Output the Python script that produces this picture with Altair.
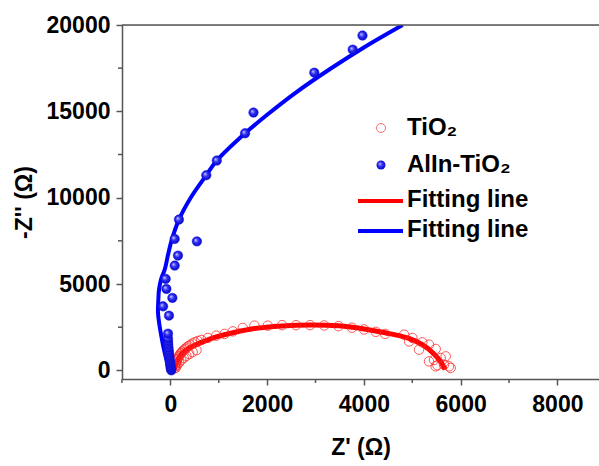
import altair as alt
import pandas as pd

# ---- data ----
tio2_zr = [85, 95, 105, 118, 130, 145, 160, 178, 198, 220, 245, 272, 302, 335, 372, 412, 458, 508, 565, 639, 775, 948, 1120, 1291, 1497,
           1738, 2012, 2309, 2598, 2887, 3181, 3476, 3753, 4006, 4247, 4439, 4831, 5002, 4934, 5208, 5346, 5140, 5484, 5691, 5588,
           5346, 5484, 5656, 5759, 5794, 5519, 5450,
           110, 140, 180, 225, 275, 330, 390, 460, 540]
tio2_zi = [120, 230, 340, 450, 560, 650, 740, 830, 920, 1000, 1080, 1160, 1240, 1320, 1400, 1480, 1560, 1630, 1700, 1760, 1877, 2010, 2110, 2260, 2456,
           2590, 2590, 2620, 2620, 2620, 2600, 2560, 2470, 2370, 2230, 2110, 2068, 1877, 1680, 1622, 1489, 1199, 1240, 811, 718,
           521, 232, 330, 232, 139, 300, 600,
           150, 300, 450, 590, 720, 840, 950, 1060, 1170]

allin_zr = [20, 15, 10, 5, 0, -5, -10, -15, -20, -25, -30, -35, -40, -45, -48, -50, -49, -29, -151, 41, -82, -97, 89, 157, 548, 89,
            177, 742, 960, 1544, 1718, 2975, 3769, 3971]
allin_zi = [0, 60, 130, 200, 300, 400, 500, 620, 750, 880, 1020, 1170, 1330, 1500, 1680, 1860, 2126, 3170, 3708, 4195, 4716, 5295, 6066, 6645, 7470, 7610,
            8730, 11300, 12150, 13730, 14930, 17240, 18573, 19390]

fit_tio2_zr = [80, 110, 150, 200, 280, 363, 466, 639, 800, 948, 1291, 1738, 2300, 2887, 3476, 4006, 4439, 4900, 5200, 5450, 5600, 5680]
fit_tio2_zi = [60, 350, 600, 850, 1080, 1250, 1400, 1620, 1800, 1940, 2180, 2420, 2570, 2630, 2580, 2400, 2180, 1880, 1500, 950, 450, 50]

fit_allin_zr = [20, -40, -82, -140, -186, -230, -256, -250, -235, -190, -118, -40, 30, 177, 420, 742, 960, 1544, 2000, 2600, 3300, 4000, 4800]
fit_allin_zi = [0, 300, 620, 1300, 1970, 2700, 3325, 4000, 4676, 5300, 5830, 6800, 7570, 8730, 10000, 11300, 12150, 13730, 14800, 16100, 17450, 18700, 20000]

x_major = [0, 2000, 4000, 6000, 8000]
x_minor = [-1000, 1000, 3000, 5000, 7000]
y_major = [0, 5000, 10000, 15000, 20000]
y_minor = [2500, 7500, 12500, 17500]

legend_labels = ["TiO₂", "AlIn-TiO₂", "Fitting line", "Fitting line"]

# ---- layout ----
W, H = 477, 354
FONT = "Liberation Sans"
AX = "#555555"

xs = alt.Scale(domain=[-1000, 8860], nice=False, zero=False)
ys = alt.Scale(domain=[-500, 20000], nice=False, zero=False)

red_pts = pd.DataFrame({"zr": tio2_zr, "zi": tio2_zi})
blue_pts = pd.DataFrame({"zr": allin_zr, "zi": allin_zi})
red_fit = pd.DataFrame({"zr": fit_tio2_zr, "zi": fit_tio2_zi, "i": range(len(fit_tio2_zr))})
blue_fit = pd.DataFrame({"zr": fit_allin_zr, "zi": fit_allin_zi, "i": range(len(fit_allin_zr))})

common = dict(grid=False, tickSize=6, tickColor=AX, domainColor=AX, domainWidth=1.5, tickWidth=1.5, format="d",
              labelFont=FONT, labelFontWeight="bold", labelFontSize=23, labelColor="black",
              titleFont=FONT, titleFontWeight="bold", titleFontSize=23, titleColor="black")
xaxis = alt.Axis(values=x_major, titlePadding=20, labelPadding=8, **common)
yaxis = alt.Axis(values=y_major, titlePadding=10, labelPadding=6, **common)

blue_grad = alt.RadialGradient(gradient="radial",
                               stops=[alt.GradientStop(color="#d0d0ff", offset=0),
                                      alt.GradientStop(color="#3030f0", offset=0.45),
                                      alt.GradientStop(color="#0000c8", offset=1)],
                               x1=0.35, y1=0.35, r1=0, x2=0.5, y2=0.5, r2=0.55)

base_axes = alt.Chart(red_fit).mark_line(color="red", strokeWidth=5, clip=True, interpolate="catmull-rom").encode(
    x=alt.X("zr:Q", scale=xs, axis=xaxis, title="Z' (Ω)"),
    y=alt.Y("zi:Q", scale=ys, axis=yaxis, title="-Z'' (Ω)"),
    order="i:Q")

red_circles = alt.Chart(red_pts).mark_point(shape="circle", filled=False, stroke="#ff2020", strokeWidth=1, size=90, opacity=0.75).encode(
    x=alt.X("zr:Q", scale=xs), y=alt.Y("zi:Q", scale=ys))

blue_line = alt.Chart(blue_fit).mark_line(color="#0000ff", strokeWidth=4, clip=True, interpolate="catmull-rom").encode(
    x=alt.X("zr:Q", scale=xs), y=alt.Y("zi:Q", scale=ys), order="i:Q")

blue_dots = alt.Chart(blue_pts).mark_point(shape="circle", filled=True, fill=blue_grad, stroke="#1010e0", strokeWidth=0.5, size=90, opacity=1).encode(
    x=alt.X("zr:Q", scale=xs), y=alt.Y("zi:Q", scale=ys))

xminor = alt.Chart(pd.DataFrame({"v": x_minor})).mark_rule(color=AX, strokeWidth=1.5).encode(
    x=alt.X("v:Q", scale=xs), y=alt.value(H), y2=alt.value(H + 4))
yminor = alt.Chart(pd.DataFrame({"v": y_minor})).mark_rule(color=AX, strokeWidth=1.5).encode(
    y=alt.Y("v:Q", scale=ys), x=alt.value(0), x2=alt.value(-4))
top = alt.Chart(pd.DataFrame({"a": [0]})).mark_rule(color=AX, strokeWidth=1.5).encode(
    x=alt.value(0), x2=alt.value(W + 5), y=alt.value(0))

one = pd.DataFrame({"a": [0]})
LX = 285
leg = [
    alt.Chart(one).mark_point(shape="circle", filled=False, stroke="#ff3030", strokeWidth=1, size=80).encode(
        x=alt.value(259), y=alt.value(103)),
    alt.Chart(one).mark_point(shape="circle", filled=True, fill=blue_grad, strokeWidth=0, size=80, opacity=1).encode(
        x=alt.value(259), y=alt.value(140)),
    alt.Chart(one).mark_rule(color="red", strokeWidth=4).encode(x=alt.value(236), x2=alt.value(281), y=alt.value(176)),
    alt.Chart(one).mark_rule(color="#0000ff", strokeWidth=4).encode(x=alt.value(236), x2=alt.value(281), y=alt.value(206)),
]
for lbl, yy in zip(legend_labels, [103, 140, 175, 205]):
    leg.append(alt.Chart(one).mark_text(text=lbl, align="left", baseline="middle", font=FONT, fontWeight="bold",
                                        fontSize=24, color="black").encode(x=alt.value(LX), y=alt.value(yy)))

chart = alt.layer(base_axes, red_circles, blue_line, blue_dots, xminor, yminor, top, *leg).properties(
    width=W, height=H,
    autosize=alt.AutoSizeParams(type="none"),
    padding={"left": 122, "top": 25, "right": 0, "bottom": 87},
).configure_view(stroke=None).configure(background="white")

chart.save("out.html", embed_options={"renderer": "svg", "actions": False})
